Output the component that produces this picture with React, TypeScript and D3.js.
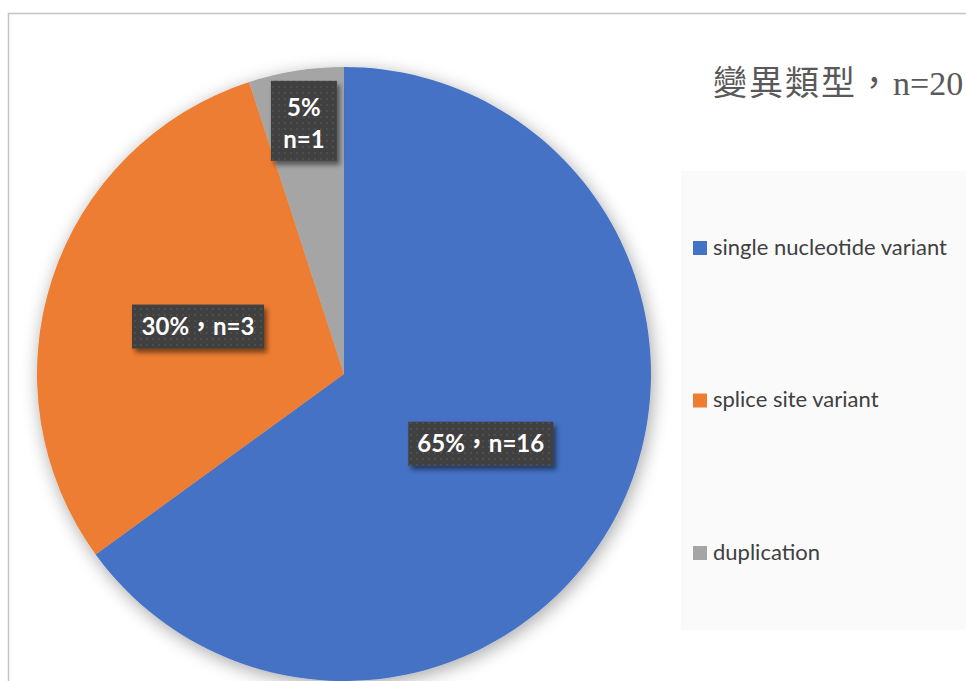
import React from "react";
import * as d3 from "d3";

const categories = ["single nucleotide variant", "splice site variant", "duplication"];
const values = [65, 30, 5];
const counts = [16, 3, 1];
const colors = ["#4472C4", "#ED7D31", "#A5A5A5"];
const titleCJK = "變異類型，";
const titleLatin = "n=20";

const W = 966;
const H = 681;

export default function App() {
  const cx = 344;
  const cy = 374;
  const r = 307;

  const pie = d3.pie<number>().value((d) => d).sort(null);
  const arcs = pie(values);
  const arcGen = d3.arc<d3.PieArcDatum<number>>().innerRadius(0).outerRadius(r);

  const total = d3.sum(values);

  const legendY = d3.scalePoint<string>().domain(categories).range([248, 553]);

  return (
    <svg
      width={W}
      height={H}
      style={{ position: "absolute", left: 0, top: 0, background: "#fff" }}
    >
      <defs>
        <filter id="pieShadow" x="-20%" y="-20%" width="140%" height="140%">
          <feGaussianBlur in="SourceAlpha" stdDeviation="9" />
          <feOffset dx="2" dy="4" result="b" />
          <feComponentTransfer>
            <feFuncA type="linear" slope="0.35" />
          </feComponentTransfer>
          <feMerge>
            <feMergeNode />
            <feMergeNode in="SourceGraphic" />
          </feMerge>
        </filter>
        <filter id="lblShadow" x="-20%" y="-20%" width="140%" height="140%">
          <feGaussianBlur in="SourceAlpha" stdDeviation="2.5" />
          <feOffset dx="3" dy="4" />
          <feComponentTransfer>
            <feFuncA type="linear" slope="0.5" />
          </feComponentTransfer>
          <feMerge>
            <feMergeNode />
            <feMergeNode in="SourceGraphic" />
          </feMerge>
        </filter>
        <pattern id="dots" width="6" height="6" patternUnits="userSpaceOnUse">
          <rect width="6" height="6" fill="#404040" />
          <circle cx="3" cy="3" r="0.9" fill="#555555" />
        </pattern>
      </defs>

      <rect x={8.5} y={13.5} width={W} height={H} fill="#fff" stroke="#c4c4c4" strokeWidth={1.5} />

      <g transform={`translate(${cx},${cy})`} filter="url(#pieShadow)">
        {arcs.map((a, i) => (
          <path key={i} d={arcGen(a) || ""} fill={colors[i]} />
        ))}
      </g>

      {arcs.map((a, i) => {
        const frac = values[i] / total;
        const lr = frac < 0.1 ? r * 0.835 : r * 0.5;
        const lab = d3.arc<d3.PieArcDatum<number>>().innerRadius(lr).outerRadius(lr);
        const [lx, ly] = lab.centroid(a);
        const x = cx + lx;
        const y = cy + ly;
        const pct = `${values[i]}%`;
        const n = `n=${counts[i]}`;
        if (frac < 0.1) {
          const bw = 66, bh = 80;
          return (
            <g key={i}>
              <rect x={x - bw / 2} y={y - bh / 2} width={bw} height={bh} fill="url(#dots)" filter="url(#lblShadow)" />
              <text x={x} y={y - 5} textAnchor="middle" fill="#fff" fontFamily="Lato" fontWeight="bold" fontSize={24}>{pct}</text>
              <text x={x} y={y + 27} textAnchor="middle" fill="#fff" fontFamily="Lato" fontWeight="bold" fontSize={24}>{n}</text>
            </g>
          );
        }
        const bw = i === 0 ? 145 : 132, bh = 44;
        return (
          <g key={i}>
            <rect x={x - bw / 2} y={y - bh / 2} width={bw} height={bh} fill="url(#dots)" filter="url(#lblShadow)" />
            <text x={x} y={y + 8.5} textAnchor="middle" fill="#fff" fontFamily="Lato, 'Noto Sans CJK TC'" fontWeight="bold" fontSize={24}>
              {`${pct}，${n}`}
            </text>
          </g>
        );
      })}

      <text x={713} y={95} fill="#595959">
        <tspan fontFamily="'Noto Sans CJK TC'" fontSize={34} letterSpacing={2}>{titleCJK}</tspan>
        <tspan fontFamily="'Liberation Serif'" fontSize={34}>{titleLatin}</tspan>
      </text>

      <rect x={681} y={171} width={W} height={459} fill="#fafafa" />
      {categories.map((c, i) => {
        const y = legendY(c) as number;
        return (
          <g key={c}>
            <rect x={693} y={y - 7} width={14} height={14} fill={colors[i]} />
            <text x={713} y={y + 6.5} fill="#404040" fontFamily="Lato" fontSize={22}>{c}</text>
          </g>
        );
      })}
    </svg>
  );
}
